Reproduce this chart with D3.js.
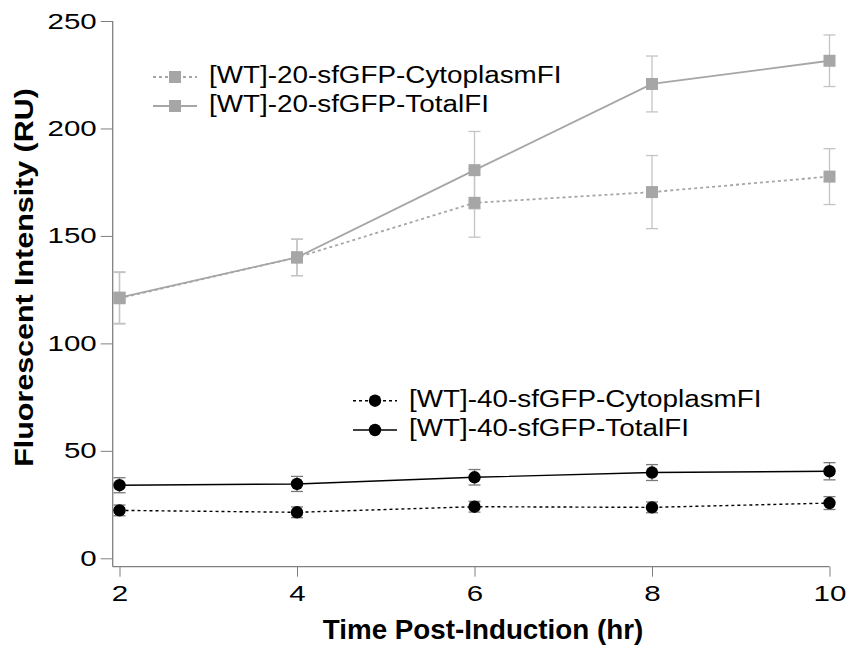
<!DOCTYPE html>
<html>
<head>
<meta charset="utf-8">
<script src="https://cdn.jsdelivr.net/npm/d3@7"></script>
<style>
  body { margin: 0; background: #fff; }
  text { font-family: "Liberation Sans", Arial, sans-serif; }
</style>
</head>
<body>
<div id="chart"></div>
<script>
const times = [2, 4, 6, 8, 10];
const xTicks = [2, 4, 6, 8, 10];
const yTicks = [0, 50, 100, 150, 200, 250];

const wt20Cyto = [121.0, 140.0, 165.4, 170.4, 177.6];
const wt20CytoErr = [12, 8.5, 16, 17, 13];
const wt20Total = [121.3, 140.0, 180.6, 220.7, 231.5];
const wt20TotalErr = [12, 8.5, 18, 13, 12];
const wt40Cyto = [22.3, 21.4, 24.0, 23.7, 25.7];
const wt40CytoErr = [2.5, 2.5, 2.5, 2.5, 3];
const wt40Total = [34.0, 34.6, 37.7, 39.9, 40.5];
const wt40TotalErr = [3.5, 3.5, 3.6, 3.7, 4];

const seriesNames = [
  "[WT]-20-sfGFP-CytoplasmFI", "[WT]-20-sfGFP-TotalFI",
  "[WT]-40-sfGFP-CytoplasmFI", "[WT]-40-sfGFP-TotalFI"
];

const W = 849, H = 647;
const axisX = 112.7, axisY = 566.7;

const svg = d3.select("#chart").append("svg")
  .attr("width", W).attr("height", H);

const x = d3.scaleLinear().domain([2, 10]).range([119.5, 829.5]);
const y = d3.scaleLinear().domain([0, 250]).range([558.3, 21]);

const gray = "#a6a6a6", grayErr = "#c4c4c4";
const series = [
  { name: seriesNames[0], vals: wt20Cyto, err: wt20CytoErr, color: gray, errColor: grayErr, dash: "3,3", shape: "square" },
  { name: seriesNames[1], vals: wt20Total, err: wt20TotalErr, color: gray, errColor: grayErr, dash: null, shape: "square" },
  { name: seriesNames[2], vals: wt40Cyto, err: wt40CytoErr, color: "#000", errColor: "#7a7a7a", dash: "3,3", shape: "circle" },
  { name: seriesNames[3], vals: wt40Total, err: wt40TotalErr, color: "#000", errColor: "#7a7a7a", dash: null, shape: "circle" }
];

// stretch text horizontally like the original export
function stretch(sel, k) {
  sel.each(function () {
    const len = this.getComputedTextLength();
    d3.select(this).attr("textLength", len * k).attr("lengthAdjust", "spacingAndGlyphs");
  });
}

// axes
const yAxis = svg.append("g")
  .attr("transform", `translate(${axisX},0)`)
  .call(d3.axisLeft(y).tickValues(yTicks).tickSize(12).tickPadding(4).tickSizeOuter(0));
const xAxis = svg.append("g")
  .attr("transform", `translate(0,${axisY})`)
  .call(d3.axisBottom(x).tickValues(xTicks).tickSize(10).tickPadding(9).tickSizeOuter(0));

[yAxis, xAxis].forEach(g => {
  g.select(".domain").remove();
  g.selectAll(".tick line").attr("stroke", "#808080");
  g.selectAll(".tick text").attr("fill", "#000").style("font-size", "22px");
  stretch(g.selectAll(".tick text"), 1.34);
});

svg.append("line")
  .attr("x1", axisX).attr("x2", axisX)
  .attr("y1", y(250)).attr("y2", axisY)
  .attr("stroke", "#808080").attr("stroke-width", 1.3);
svg.append("line")
  .attr("x1", axisX).attr("x2", x(10))
  .attr("y1", axisY).attr("y2", axisY)
  .attr("stroke", "#808080").attr("stroke-width", 1.3);

// axis titles
const xt = svg.append("text")
  .attr("x", 483).attr("y", 639)
  .attr("text-anchor", "middle")
  .style("font-size", "27.5px").style("font-weight", "bold")
  .text("Time Post-Induction (hr)");
stretch(xt, 1.01);

const yt = svg.append("text")
  .attr("transform", "translate(33,277.5) rotate(-90)")
  .attr("text-anchor", "middle")
  .style("font-size", "26px").style("font-weight", "bold")
  .text("Fluorescent Intensity (RU)");
stretch(yt, 1.17);

// error bars
const cap = 6;
series.forEach(s => {
  const g = svg.append("g").attr("stroke", s.errColor).attr("stroke-width", 1.3);
  times.forEach((t, i) => {
    const cx = x(t), top = y(s.vals[i] + s.err[i]), bot = y(s.vals[i] - s.err[i]);
    g.append("line").attr("x1", cx).attr("x2", cx).attr("y1", top).attr("y2", bot);
    g.append("line").attr("x1", cx - cap).attr("x2", cx + cap).attr("y1", top).attr("y2", top);
    g.append("line").attr("x1", cx - cap).attr("x2", cx + cap).attr("y1", bot).attr("y2", bot);
  });
});

// lines
const line = d3.line().x((d, i) => x(times[i])).y(d => y(d));
series.forEach(s => {
  svg.append("path")
    .datum(s.vals)
    .attr("fill", "none")
    .attr("stroke", s.color)
    .attr("stroke-width", s.color === gray ? 1.8 : 1.4)
    .attr("stroke-dasharray", s.dash)
    .attr("d", line);
});

function marker(g, shape, cx, cy, color) {
  if (shape === "square") {
    g.append("rect").attr("x", cx - 6).attr("y", cy - 6)
      .attr("width", 12).attr("height", 12).attr("fill", color);
  } else {
    g.append("circle").attr("cx", cx).attr("cy", cy).attr("r", 6.2).attr("fill", color);
  }
}

// markers
series.forEach(s => {
  const g = svg.append("g");
  s.vals.forEach((v, i) => marker(g, s.shape, x(times[i]), y(v), s.color));
});

// legends
const legends = [
  { items: [series[0], series[1]], lx: 153, rows: [77, 106] },
  { items: [series[2], series[3]], lx: 353, rows: [400.7, 430] }
];
legends.forEach(L => {
  L.items.forEach((s, i) => {
    const cy = L.rows[i];
    const g = svg.append("g");
    g.append("line")
      .attr("x1", L.lx).attr("x2", L.lx + 44)
      .attr("y1", cy).attr("y2", cy)
      .attr("stroke", s.color)
      .attr("stroke-width", s.color === gray ? 1.8 : 1.4)
      .attr("stroke-dasharray", s.dash);
    marker(g, s.shape, L.lx + 22, cy, s.color);
    const t = g.append("text")
      .attr("x", L.lx + 56).attr("y", cy + 6)
      .style("font-size", "23px").attr("fill", "#000")
      .text(s.name);
    stretch(t, 1.21);
  });
});
</script>
</body>
</html>
